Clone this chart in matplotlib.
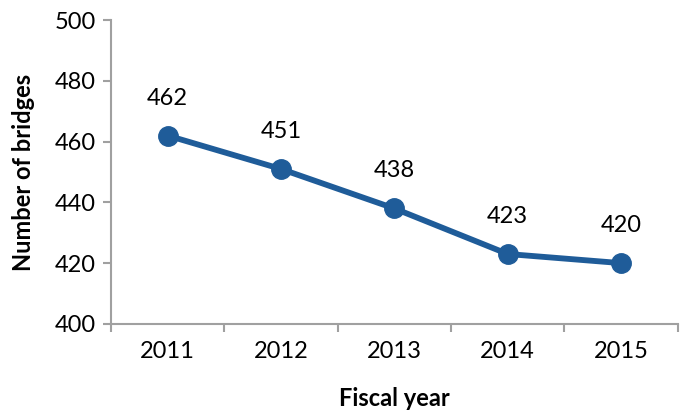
import matplotlib
matplotlib.use("Agg")
import matplotlib.pyplot as plt

years = ["2011", "2012", "2013", "2014", "2015"]
bridges = [462, 451, 438, 423, 420]

plt.rcParams['font.family'] = ['Lato', 'DejaVu Sans']
fig = plt.figure(figsize=(6.84, 4.11), dpi=100)
ax = fig.add_axes([0.162, 0.212, 0.829, 0.739])
color = '#1F5C99'
x = list(range(len(years)))
ax.plot(x, bridges, color=color, lw=4.2, marker='o', ms=14, zorder=3, clip_on=False)
for xi, v in zip(x, bridges):
    ax.annotate(str(v), (xi, v), xytext=(0, 27), textcoords='offset points',
                ha='center', va='center', fontsize=17)
ax.set_xlim(-0.5, len(years) - 0.5)
ax.set_ylim(400, 500)
ax.set_yticks(range(400, 501, 20))
ax.set_xticks(x)
ax.set_xticklabels(years)
ax.set_xticks([i - 0.5 for i in range(len(years) + 1)], minor=True)
ax.tick_params(axis='x', which='major', length=0, labelsize=17, pad=12)
ax.tick_params(axis='x', which='minor', length=6, color='#A0A0A0', width=1.5)
ax.tick_params(axis='y', length=6, color='#A0A0A0', width=1.5, labelsize=17, pad=5)
for s in ['top', 'right']:
    ax.spines[s].set_visible(False)
for s in ['left', 'bottom']:
    ax.spines[s].set_color('#A0A0A0')
    ax.spines[s].set_linewidth(1.5)
ax.set_xlabel('Fiscal year', fontsize=17, fontweight='bold', labelpad=18)
ax.set_ylabel('Number of bridges', fontsize=17, fontweight='bold', labelpad=14)
fig.savefig('out.png', dpi=100)
